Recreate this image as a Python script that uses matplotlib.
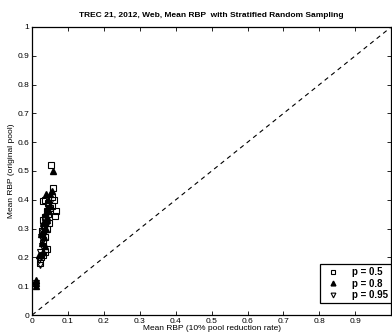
import matplotlib
matplotlib.use("Agg")
import matplotlib.pyplot as plt
import numpy as np

plt.rcParams['font.family'] = ['Liberation Sans', 'DejaVu Sans']

# Mean RBP with reduced pool (x) against the original pool (y)
x_p05 = [0.052, 0.058, 0.055, 0.060, 0.066, 0.065, 0.045, 0.030, 0.035, 0.050, 0.040, 0.045, 0.035,
         0.030, 0.048, 0.032, 0.040, 0.028, 0.035, 0.030, 0.040, 0.030, 0.025, 0.022, 0.035, 0.055]
y_p05 = [0.520, 0.440, 0.410, 0.400, 0.360, 0.345, 0.390, 0.395, 0.400, 0.370, 0.360, 0.350, 0.340,
         0.330, 0.320, 0.310, 0.300, 0.290, 0.270, 0.250, 0.230, 0.210, 0.200, 0.180, 0.220, 0.380]

x_p08 = [0.058, 0.055, 0.038, 0.045, 0.050, 0.040, 0.045, 0.035, 0.040, 0.030, 0.038, 0.030, 0.025,
         0.032, 0.028, 0.035, 0.030, 0.025, 0.020, 0.010, 0.012, 0.010, 0.050, 0.042]
y_p08 = [0.500, 0.430, 0.420, 0.400, 0.380, 0.370, 0.360, 0.350, 0.330, 0.320, 0.300, 0.290, 0.280,
         0.270, 0.250, 0.240, 0.220, 0.210, 0.210, 0.120, 0.110, 0.100, 0.420, 0.340]

x_p095 = [0.045, 0.040, 0.035, 0.030, 0.038, 0.028, 0.032, 0.025, 0.030, 0.028, 0.022, 0.026, 0.020,
          0.022, 0.012, 0.010, 0.008, 0.050, 0.040]
y_p095 = [0.370, 0.350, 0.330, 0.310, 0.310, 0.290, 0.280, 0.270, 0.260, 0.240, 0.220, 0.200, 0.190,
          0.175, 0.110, 0.100, 0.105, 0.390, 0.320]

fig = plt.figure(figsize=(3.92, 3.33), dpi=100)
ax = fig.add_axes([0.082, 0.054, 0.916, 0.865])

ax.plot([0, 1], [0, 1], color='k', ls=(0, (4, 3.5)), lw=0.8)
ax.plot(x_p05, y_p05, 's', mfc='none', mec='k', ms=4.3, mew=0.8, label='p = 0.5')
ax.plot(x_p08, y_p08, '^', mfc='k', mec='k', ms=4.3, label='p = 0.8')
ax.plot(x_p095, y_p095, 'v', mfc='none', mec='k', ms=4.3, mew=0.8, label='p = 0.95')

ax.set_xlim(0, 1)
ax.set_ylim(0, 1)
ax.set_xticks(np.arange(0, 1.0, 0.1))
ax.set_xticklabels(['0', '0.1', '0.2', '0.3', '0.4', '0.5', '0.6', '0.7', '0.8', '0.9'])
ax.set_yticks(np.arange(0, 1.01, 0.1))
ax.set_yticklabels(['0', '0.1', '0.2', '0.3', '0.4', '0.5', '0.6', '0.7', '0.8', '0.9', '1'])
ax.tick_params(direction='in', top=True, right=True, labelsize=6, length=3, width=0.6, pad=2)
for s in ax.spines.values():
    s.set_linewidth(0.9)

ax.set_xlabel('Mean RBP (10% pool reduction rate)', fontsize=6, labelpad=0)
ax.set_ylabel('Mean RBP (original pool)', fontsize=6, labelpad=2)
ax.set_title('TREC 21, 2012, Web, Mean RBP  with Stratified Random Sampling',
             fontsize=6, fontweight='bold', pad=7)

leg = ax.legend(loc='lower right', bbox_to_anchor=(1.0, 0.042),
                prop={'weight': 'bold', 'size': 7}, fancybox=False, framealpha=1,
                edgecolor='k', handlelength=2.0, handletextpad=1.0, borderpad=0.3,
                labelspacing=0.15, borderaxespad=0, markerscale=0.8)
leg.get_frame().set_linewidth(0.9)

fig.savefig('out.png', dpi=100)
